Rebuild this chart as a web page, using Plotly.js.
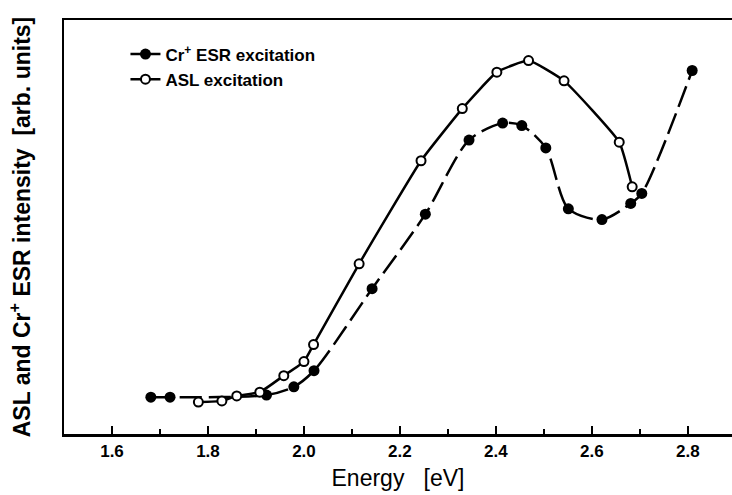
<!DOCTYPE html>
<html>
<head>
<meta charset="utf-8">
<script src="https://cdn.plot.ly/plotly-3.0.1.min.js"></script>
<style>
html,body{margin:0;padding:0;background:#fff;}
#chart{width:732px;height:495px;}
</style>
</head>
<body>
<div id="chart"></div>
<script>
// Cr+ ESR excitation (filled circles)
var crEnergy = [1.681, 1.721, 1.922, 1.979, 2.021, 2.142, 2.253, 2.344, 2.414, 2.454, 2.504, 2.551, 2.621, 2.681, 2.704, 2.809];
var crIntensity = [8.9, 8.9, 9.4, 11.4, 15.3, 35.1, 53.1, 71.0, 75.1, 74.5, 69.1, 54.4, 51.8, 55.7, 58.1, 87.8];
// ASL excitation (open circles)
var aslEnergy = [1.780, 1.829, 1.860, 1.908, 1.958, 2.000, 2.020, 2.115, 2.244, 2.330, 2.402, 2.468, 2.542, 2.657, 2.684];
var aslIntensity = [7.7, 8.0, 9.2, 10.1, 14.1, 17.5, 21.6, 41.1, 66.0, 78.6, 87.4, 90.2, 85.3, 70.5, 59.7];
var xTickVals = [1.6, 1.8, 2.0, 2.2, 2.4, 2.6, 2.8];
var xTickText = ['1.6', '1.8', '2.0', '2.2', '2.4', '2.6', '2.8'];

var crName = 'Cr<sup>+</sup> ESR excitation';
var aslName = 'ASL excitation';

var traces = [
  {
    x: crEnergy, y: crIntensity, type: 'scatter', mode: 'lines+markers',
    name: crName, showlegend: false, legendgroup: 'cr',
    line: {color: '#000', width: 2.5, dash: '22px,7px', shape: 'spline', smoothing: 0.8},
    marker: {symbol: 'circle', size: 11, color: '#000', line: {color: '#000', width: 0}}
  },
  {
    // legend entry for the filled series (solid symbol line as in the reference key)
    x: [null], y: [null], type: 'scatter', mode: 'lines+markers',
    name: crName, legendgroup: 'cr',
    line: {color: '#000', width: 2.5},
    marker: {symbol: 'circle', size: 11, color: '#000'}
  },
  {
    x: aslEnergy, y: aslIntensity, type: 'scatter', mode: 'lines+markers',
    name: aslName,
    line: {color: '#000', width: 2.5, shape: 'spline', smoothing: 0.4},
    marker: {symbol: 'circle', size: 9, color: '#fff', line: {color: '#000', width: 2}}
  }
];

var layout = {
  width: 732, height: 495,
  margin: {l: 64, r: 0, t: 20, b: 61},
  paper_bgcolor: '#fff', plot_bgcolor: '#fff',
  font: {family: 'Liberation Sans, Arial, sans-serif', color: '#000'},
  showlegend: true,
  legend: {
    x: 0.092, y: 0.96, xanchor: 'left', yanchor: 'top',
    bgcolor: 'rgba(0,0,0,0)', borderwidth: 0,
    font: {size: 17, weight: 'bold', color: '#000'},
    tracegroupgap: 0
  },
  xaxis: {
    range: [1.5, 2.892],
    tickvals: xTickVals, ticktext: xTickText,
    ticks: 'inside', ticklen: 8, tickwidth: 2, tickcolor: '#000',
    minor: {dtick: 0.1, tick0: 1.5, ticks: 'inside', ticklen: 5, tickwidth: 2, tickcolor: '#000'},
    showline: true, linewidth: 2.5, linecolor: '#000', mirror: true,
    showgrid: false, zeroline: false,
    tickfont: {size: 17, weight: 'bold', color: '#000'},
    title: {text: 'Energy\u00a0\u00a0\u00a0[eV]', font: {size: 23, color: '#000'}, standoff: 10}
  },
  yaxis: {
    range: [0, 100],
    showticklabels: false, ticks: '',
    showline: true, linewidth: 2.5, linecolor: '#000', mirror: false,
    showgrid: false, zeroline: false,
    title: {text: 'ASL and Cr<sup>+</sup> ESR intensity\u00a0\u00a0[arb. units]', font: {size: 23, weight: 'bold', color: '#000'}, standoff: 25}
  }
};

Plotly.newPlot('chart', traces, layout, {displayModeBar: false, staticPlot: true});
</script>
</body>
</html>
